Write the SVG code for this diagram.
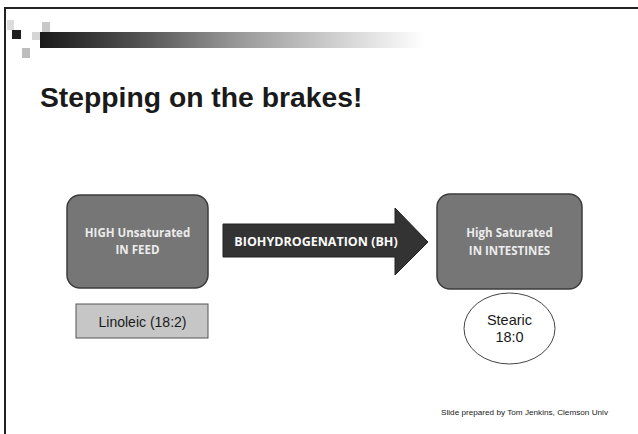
<svg xmlns="http://www.w3.org/2000/svg" width="638" height="434" viewBox="0 0 638 434">
<defs>
<linearGradient id="bar" x1="0" y1="0" x2="1" y2="0">
<stop offset="0" stop-color="#1a1a1a"/>
<stop offset="0.25" stop-color="#505050"/>
<stop offset="0.5" stop-color="#959595"/>
<stop offset="0.78" stop-color="#d2d2d2"/>
<stop offset="1" stop-color="#ffffff"/>
</linearGradient>
<style>
.box{fill:#767676;stroke:#3c3c3c;stroke-width:1.5}
.wt{font-family:"Open Sans","Liberation Sans",sans-serif;font-weight:bold;font-size:11.5px;fill:#ececec;text-anchor:middle}
.bt{font-family:"Liberation Sans",Arial,sans-serif;fill:#1a1a1a;text-anchor:middle}
</style>
</defs>
<rect width="638" height="434" fill="#ffffff"/>
<g id="frame">
<line x1="4" y1="8" x2="638" y2="8" stroke="#222" stroke-width="2"/>
<line x1="5" y1="7" x2="5" y2="434" stroke="#222" stroke-width="2"/>
</g>
<g id="header">
<rect x="7" y="20" width="7" height="10" fill="#dcdcdc"/>
<rect x="42" y="22" width="8" height="11" fill="#c8c8c8"/>
<rect x="32" y="32" width="8" height="8" fill="#d6d6d6"/>
<rect x="22" y="48" width="8" height="10" fill="#bdbdbd"/>
<rect x="12" y="30" width="9" height="9" fill="#1e1e1e"/>
<rect x="40" y="32" width="385" height="16" fill="url(#bar)"/>
</g>
<text x="40" y="107" font-family="Liberation Sans,Arial,sans-serif" font-weight="bold" font-size="28.3" fill="#1a1a1a">Stepping on the brakes!</text>
<g id="connectors">
<g id="arrow">
<polygon points="223,224 395,224 395,208 428,242 395,275 395,257 223,257" fill="#333333" stroke="#222" stroke-width="1"/>
<text class="wt" x="316" y="246" style="fill:#fafafa;font-size:12.5px">BIOHYDROGENATION (BH)</text>
</g>
</g>
<g id="feed">
<rect class="box" x="67" y="195" width="141" height="93" rx="13"/>
<text class="wt" x="137.5" y="237">HIGH Unsaturated</text>
<text class="wt" x="137.5" y="254">IN FEED</text>
</g>
<g id="intestines">
<rect class="box" x="437" y="194" width="145" height="95" rx="13"/>
<text class="wt" x="509.5" y="237">High  Saturated</text>
<text class="wt" x="509.5" y="255">IN INTESTINES</text>
</g>
<g id="linoleic">
<rect x="76" y="304" width="132" height="34" fill="#c6c6c6" stroke="#555" stroke-width="1"/>
<text class="bt" x="142.5" y="327" font-size="14">Linoleic (18:2)</text>
</g>
<g id="stearic">
<ellipse cx="509.5" cy="328.5" rx="45.5" ry="35.5" fill="#ffffff" stroke="#444" stroke-width="1"/>
<text class="bt" x="509.5" y="325" font-size="14.5">Stearic</text>
<text class="bt" x="509.5" y="342" font-size="14.5">18:0</text>
</g>
<text x="441" y="415" font-family="Liberation Sans,Arial,sans-serif" font-size="6.5" fill="#222" textLength="167" lengthAdjust="spacingAndGlyphs">Slide prepared by Tom Jenkins, Clemson Univ</text>
</svg>
